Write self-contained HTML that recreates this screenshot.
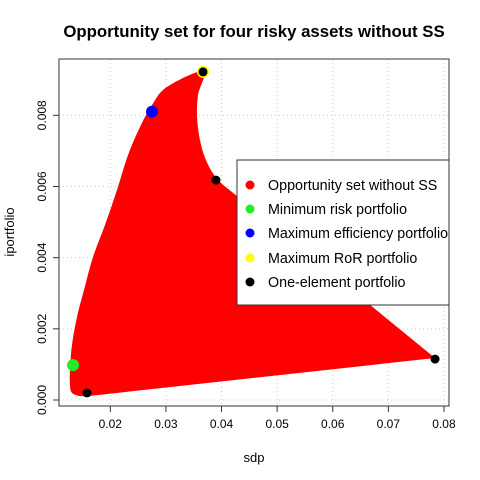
<!DOCTYPE html>
<html><head><meta charset="utf-8"><style>
html,body{margin:0;padding:0;background:#fff;}
svg{display:block;font-family:"Liberation Sans",Arial,sans-serif;}
</style></head><body>
<svg id="chart" width="480" height="480" viewBox="0 0 480 480" xmlns="http://www.w3.org/2000/svg">
<rect width="480" height="480" fill="#fff"/>
<text x="254" y="37" text-anchor="middle" font-size="16.8" font-weight="bold">Opportunity set for four risky assets without SS</text>
<g id="grid"></g>
<g id="region"></g>
<g id="points"></g>
<rect x="59" y="59" width="390" height="347" fill="none" stroke="#333" stroke-width="1"/>
<g id="axes"></g>
<text x="254" y="462" text-anchor="middle" font-size="13">sdp</text>
<text transform="translate(14,232) rotate(-90)" text-anchor="middle" font-size="13">iportfolio</text>
<g>
<rect x="237" y="160" width="212" height="145" fill="#fff" stroke="#333" stroke-width="1"/>
<circle cx="250" cy="185" r="4.5" fill="#ff0000"/><text x="268" y="190" font-size="14.3">Opportunity set without SS</text>
<circle cx="250" cy="209" r="4.5" fill="#22ee22"/><text x="268" y="214" font-size="14.3">Minimum risk portfolio</text>
<circle cx="250" cy="233" r="4.5" fill="#0000ff"/><text x="268" y="238" font-size="14.3">Maximum efficiency portfolio</text>
<circle cx="250" cy="258" r="4.5" fill="#ffff00"/><text x="268" y="263" font-size="14.3">Maximum RoR portfolio</text>
<circle cx="250" cy="282" r="4.5" fill="#000"/><text x="268" y="287" font-size="14.3">One-element portfolio</text>
</g>
</svg>
<script>
const xTicks=[0.02,0.03,0.04,0.05,0.06,0.07,0.08];
const xTickLabels=["0.02","0.03","0.04","0.05","0.06","0.07","0.08"];
const yTicks=[0,0.002,0.004,0.006,0.008];
const yTickLabels=["0.000","0.002","0.004","0.006","0.008"];
const regionX=[0.03667,0.03020,0.02750,0.02534,0.02318,0.02120,0.01905,0.01689,0.01527,0.01401,0.01311,0.01275,0.01275,0.01311,0.01455,0.01599,0.07839,0.04207,0.04009,0.03829,0.03685,0.03595,0.03559,0.03577];
const regionY=[0.00924,0.00880,0.00829,0.00767,0.00688,0.00590,0.00492,0.00402,0.00309,0.00233,0.00155,0.00084,0.00042,0.00020,0.00011,0.00011,0.00118,0.00582,0.00607,0.00641,0.00688,0.00745,0.00801,0.00857];
const minRiskX=[0.0133], minRiskY=[0.00098];
const maxEffX=[0.0275], maxEffY=[0.0081];
const maxRorX=[0.03667], maxRorY=[0.00922];
const oneX=[0.03667,0.0390,0.0784,0.0158];
const oneY=[0.00922,0.00618,0.00115,0.0002];
const NS="http://www.w3.org/2000/svg";
function sx(v){return 110.3+(v-0.02)*5561;}
function sy(v){return 400-v*35587;}
function mk(tag,attrs,parent){const e=document.createElementNS(NS,tag);for(const k in attrs)e.setAttribute(k,attrs[k]);parent.appendChild(e);return e;}
const grid=document.getElementById('grid'),axes=document.getElementById('axes'),region=document.getElementById('region'),pts=document.getElementById('points');
xTicks.forEach((t,i)=>{
 const g=mk('line',{x1:sx(t),x2:sx(t),y1:59,y2:406,stroke:'#ccc','stroke-dasharray':'1,3'},grid);
 
 
 const l=mk('line',{x1:sx(t),x2:sx(t),y1:406,y2:412,stroke:'#333'},axes);
 
 
 const tx=mk('text',{x:sx(t),y:428,'text-anchor':'middle','font-size':'12'},axes);
 tx.textContent=xTickLabels[i];
 
 
});
mk('line',{x1:sx(0.02),x2:sx(0.08),y1:406,y2:406,stroke:'#333'},axes);
yTicks.forEach((t,i)=>{
 const g=mk('line',{x1:59,x2:449,y1:sy(t),y2:sy(t),stroke:'#ccc','stroke-dasharray':'1,3'},grid);
 
 
 const l=mk('line',{x1:53,x2:59,y1:sy(t),y2:sy(t),stroke:'#333'},axes);
 
 
 const tx=mk('text',{transform:`translate(46,${sy(t)}) rotate(-90)`,'text-anchor':'middle','font-size':'12'},axes);
 tx.textContent=yTickLabels[i];
 
 
});
const P=regionX.map((x,i)=>[sx(x),sy(regionY[i])]);
const n=P.length;
let d='M'+P[0][0]+','+P[0][1];
for(let i=0;i<n;i++){
 const p0=P[(i-1+n)%n],p1=P[i],p2=P[(i+1)%n],p3=P[(i+2)%n];
 if(i===14||i===15||i===16){d+=' L'+p2[0]+','+p2[1];continue;}
 const c1=[p1[0]+(p2[0]-p0[0])/6,p1[1]+(p2[1]-p0[1])/6];
 const c2=[p2[0]-(p3[0]-p1[0])/6,p2[1]-(p3[1]-p1[1])/6];
 d+=` C${c1[0]},${c1[1]} ${c2[0]},${c2[1]} ${p2[0]},${p2[1]}`;
}
d+='Z';
const poly=mk('path',{d:d,fill:'#ff0000'},region);


function dots(xs,ys,fill,r,name){xs.forEach((x,i)=>{const c=mk('circle',{cx:sx(x),cy:sy(ys[i]),r:r,fill:fill},pts);
 
 });}
dots(minRiskX,minRiskY,'#22ee22',6,'min-risk-point');
dots(maxEffX,maxEffY,'#0000ff',6,'max-efficiency-point');
dots(maxRorX,maxRorY,'#ffff00',6,'max-ror-point');
dots(oneX,oneY,'#000',4.5,'one-element-point');
</script>
</body></html>
